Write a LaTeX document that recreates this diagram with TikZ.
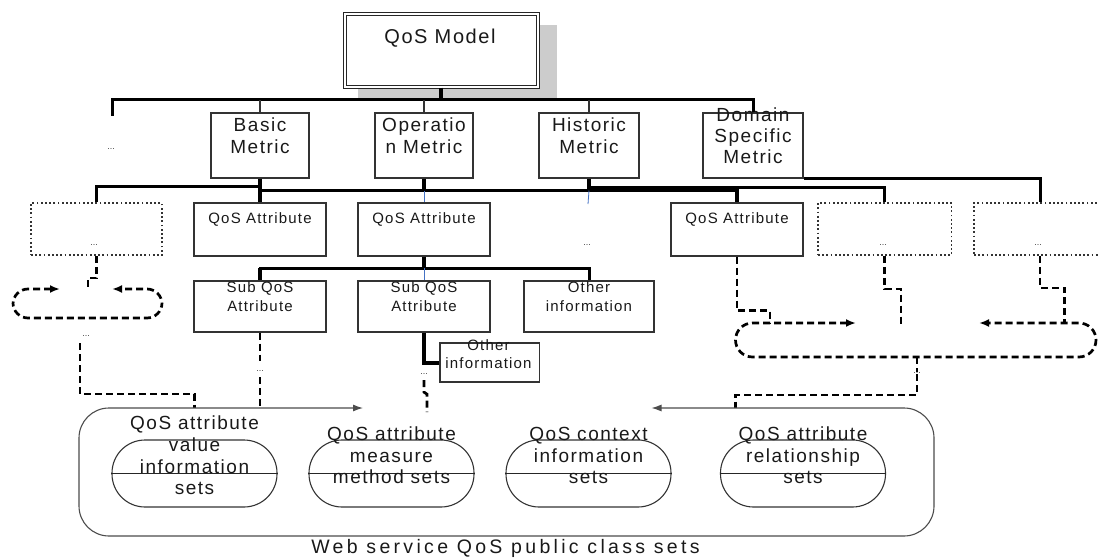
\documentclass[tikz,border=0pt]{standalone}
\usepackage{fontspec}
\setmainfont{Liberation Sans}
\newfontfamily\fsp[LetterSpace=8]{Liberation Sans}
\newfontfamily\fspw[LetterSpace=17]{Liberation Sans}
\usetikzlibrary{arrows.meta}
\definecolor{blueln}{RGB}{68,114,196}
\begin{document}
\begin{tikzpicture}[x=1pt,y=-1pt,
  bx/.style={draw=black!80, line width=1.2pt, inner sep=0pt},
  dbx/.style={draw=black!80, line width=1.8pt, dash pattern=on 1.8pt off 2.4pt, inner sep=0pt},
  setbx/.style={draw=black!80, line width=1.1pt, inner sep=0pt, rounded corners=33pt, minimum width=165, minimum height=67},
  tree/.style={line width=3pt, draw=black},
  stem/.style={line width=4pt, draw=black},
  thinl/.style={line width=1.2pt, draw=black!80},
  bluel/.style={line width=0.8pt, draw=blueln},
  dsh/.style={line width=2.7pt, dash pattern=on 7pt off 4pt, draw=black},
  publ/.style={line width=1.1pt, draw=black!70},
  tbig/.style={font=\fsp\fontsize{20}{24}\selectfont, inner sep=0pt, text=black!90},
  tmet/.style={font=\fsp\fontsize{19}{22}\selectfont, align=center, inner sep=0pt, text=black!90},
  tdom/.style={font=\fsp\fontsize{19}{21}\selectfont, align=center, inner sep=0pt, text=black!90},
  tsm/.style={font=\fsp\fontsize{15}{19}\selectfont, align=center, inner sep=0pt, text=black!90},
  tsm2/.style={font=\fsp\fontsize{15}{18}\selectfont, align=center, inner sep=0pt, text=black!90},
  tset/.style={font=\fsp\fontsize{19}{21.6}\selectfont, align=center, inner sep=0pt, text=black!90},
  dt/.style={font=\fontsize{9}{9}\selectfont, inner sep=0.5pt, text=black!75},
  >={Latex[length=10pt,width=8pt]}
]
\useasboundingbox (0,0) rectangle (1099,559);

% shadow and model
\fill[black!20] (358,25) rectangle (557,100);
\node[draw=black!85, double, double distance=2pt, line width=1pt, fill=white,
      minimum width=193, minimum height=73, inner sep=0pt] (model) at (441.2,50.7) {};
\node[tbig] (modelt) at (440,38) {QoS Model};

% metric boxes
\node[bx, minimum width=98, minimum height=65] (basic) at (260,145.5) {};
\node[tmet] (basict) at (260,136) {Basic\\Metric};
\node[bx, minimum width=98, minimum height=65] (oper) at (424,145.5) {};
\node[tmet] (opert) at (424,136) {Operatio\\n Metric};
\node[bx, minimum width=100, minimum height=65] (hist) at (589,145.5) {};
\node[tmet] (histt) at (589,136) {Historic\\Metric};
\node[bx, minimum width=100, minimum height=65] (domain) at (753,145.5) {};
\node[tdom] (domaint) at (753,136) {Domain\\Specific\\Metric};
\node[dt] (dd1) at (111,149) {...};

% attribute row
\node[dbx, minimum width=131, minimum height=52] (dbox1) at (96.5,229) {};
\node[dt] (dd2) at (94,245) {...};
\node[bx, minimum width=132, minimum height=53] (attr1) at (260,229.5) {};
\node[tsm] (attr1t) at (260,219) {QoS Attribute};
\node[bx, minimum width=132, minimum height=53] (attr2) at (424,229.5) {};
\node[tsm] (attr2t) at (424,219) {QoS Attribute};
\node[dt] (dd6) at (587,245) {...};
\node[bx, minimum width=132, minimum height=53] (attr4) at (737,229.5) {};
\node[tsm] (attr4t) at (737,219) {QoS Attribute};
\node[dbx, minimum width=133.5, minimum height=52] (dbox2) at (884.75,229) {};
\node[dt] (dd7) at (883,245) {...};
\node[dbx, minimum width=132, minimum height=52] (dbox3) at (1040,229) {};
\node[dt] (dd8) at (1038,245) {...};

% sub row
\node[bx, minimum width=132, minimum height=51] (sub1) at (260,306.5) {};
\node[tsm] (sub1t) at (260,296.5) {Sub QoS\\Attribute};
\node[bx, minimum width=132, minimum height=51] (sub2) at (424,306.5) {};
\node[tsm] (sub2t) at (424,296.5) {Sub QoS\\Attribute};
\node[bx, minimum width=130, minimum height=51] (oth1) at (589,306.5) {};
\node[tsm] (oth1t) at (589,296.5) {Other\\information};
\node[bx, minimum width=99.5, minimum height=39] (oth2) at (489.75,362.5) {};
\node[tsm2] (oth2t) at (488.5,354) {Other\\information};

\node[dt] (dd3) at (86,336) {...};
\node[dt] (dd4) at (260,371) {...};
\node[dt] (dd5) at (424,374) {...};
\node[dt] (dd9) at (917,373) {...};

% public class sets
\node[setbx] (set1) at (194.5,473.5) {};
\node[setbx] (set2) at (391.5,473.5) {};
\node[setbx] (set3) at (588.5,473.5) {};
\node[setbx] (set4) at (803,473.5) {};
\draw[line width=1.1pt, black!85] (set1.west) -- (set1.east);
\draw[line width=1.1pt, black!85] (set2.west) -- (set2.east);
\draw[line width=1.1pt, black!85] (set3.west) -- (set3.east);
\draw[line width=1.1pt, black!85] (set4.west) -- (set4.east);
\node[tset] (set1t) at (194.5,455.5) {QoS attribute\\value\\information\\sets};
\node[tset] (set2t) at (391.5,455.5) {QoS attribute\\measure\\method sets};
\node[tset] (set3t) at (588.5,455.5) {QoS context\\information\\sets};
\node[tset] (set4t) at (803,455.5) {QoS attribute\\relationship\\sets};

% helper levels
\coordinate (y1) at (0,100);
\coordinate (y2a) at (0,186);
\coordinate (y2) at (0,190.5);
\coordinate (y2b) at (0,187);
\coordinate (y3) at (0,268);
\coordinate (yA) at (0,394);
\coordinate (yB) at (0,395);
\coordinate (pubt) at (0,408);
\coordinate (lend) at (112,116);
\coordinate (hb) at (588,204);
\coordinate (c1) at (88,289);
\coordinate (d1) at (80,343);
\coordinate (c2a) at (770,323);
\coordinate (c2b) at (901,325);
\coordinate (c2c) at (1064.5,323);
\coordinate (c2d) at (917,357);
\coordinate (bt2) at (735.5,408);
\coordinate (e4) at (427,412);

% top level tree
\draw[tree] (lend) |- (domain.north |- y1) -- (domain.north);
\draw[stem] (model.south) -- (model.south |- y1);
\draw[thinl] (basic.north |- y1) -- (basic.north);
\draw[thinl] (oper.north |- y1) -- (oper.north);
\draw[thinl] (hist.north |- y1) -- (hist.north);

% second level
\draw[tree] (dbox1.north) |- (basic.south |- y2a);
\draw[stem] (basic.south) -- (attr1.north);
\draw[tree] (basic.south |- y2) -| (attr4.north);
\draw[stem] (attr4.north |- y2) -- (attr4.north);
\draw[stem] (oper.south) -- (oper.south |- y2);
\draw[stem] (hist.south) -- (hist.south |- y2);
\draw[tree] (hist.south |- y2b) -| (dbox2.north);
\draw[tree] (domain.south east) -| (dbox3.north);
\draw[bluel] (attr2.north |- y2) -- (attr2.north);
\draw[bluel] (hist.south |- y2) -- (hb);

% third level
\draw[stem] (attr2.south) -- (attr2.south |- y3);
\draw[tree] (sub1.north) |- (oth1.north |- y3) -- (oth1.north);
\draw[stem] (sub1.north) -- (sub1.north |- y3);
\draw[bluel] (sub2.north |- y3) -- (sub2.north);
\draw[stem] (sub2.south) |- (oth2.west);

% left dashed part
\draw[dsh] (dbox1.south) -- ++(0,22) -| (c1);
\draw[dsh,<->,rounded corners=15pt] (60,289) -- (13,289) -- (13,318) -- (162,318) -- (162,289) -- (112,289);
\draw[dsh] (d1) |- (set1.north |- yA) -- (set1.north |- pubt);
\draw[dsh] (sub1.south) -- ++(0,28);
\draw[dsh] (dd4.south) ++(0,5) -- (dd4.south |- pubt);
\draw[dsh] (dd5.south) ++(0,5) -- ++(0,12) -- ++(3,2) -- (e4);

% right dashed part
\draw[dsh] (attr4.south) -- ++(0,54) -| (c2a);
\draw[dsh,<->,rounded corners=17pt] (856,323) -- (735.5,323) -- (735.5,357) -- (1096,357) -- (1096,323) -- (979,323);
\draw[dsh] (dbox2.south) -- ++(0,33) -| (c2b);
\draw[dsh] (dbox3.south) -- ++(0,32) -| (c2c);
\draw[dsh] (c2d) -- (dd9.north);
\draw[dsh] (dd9.south) |- (bt2 |- yB) -- (bt2);

\draw[publ,<->,>={Latex[length=10pt,width=7pt]},rounded corners=30pt]
  (363,408) -- (79,408) -- (79,536) -- (934,536) -- (934,408) -- (651.5,408);
\node[font=\fspw\fontsize{19.5}{24}\selectfont, inner sep=0pt, text=black!90] (pubtext) at (505.5,548) {Web service QoS public class sets};
\end{tikzpicture}
\end{document}
